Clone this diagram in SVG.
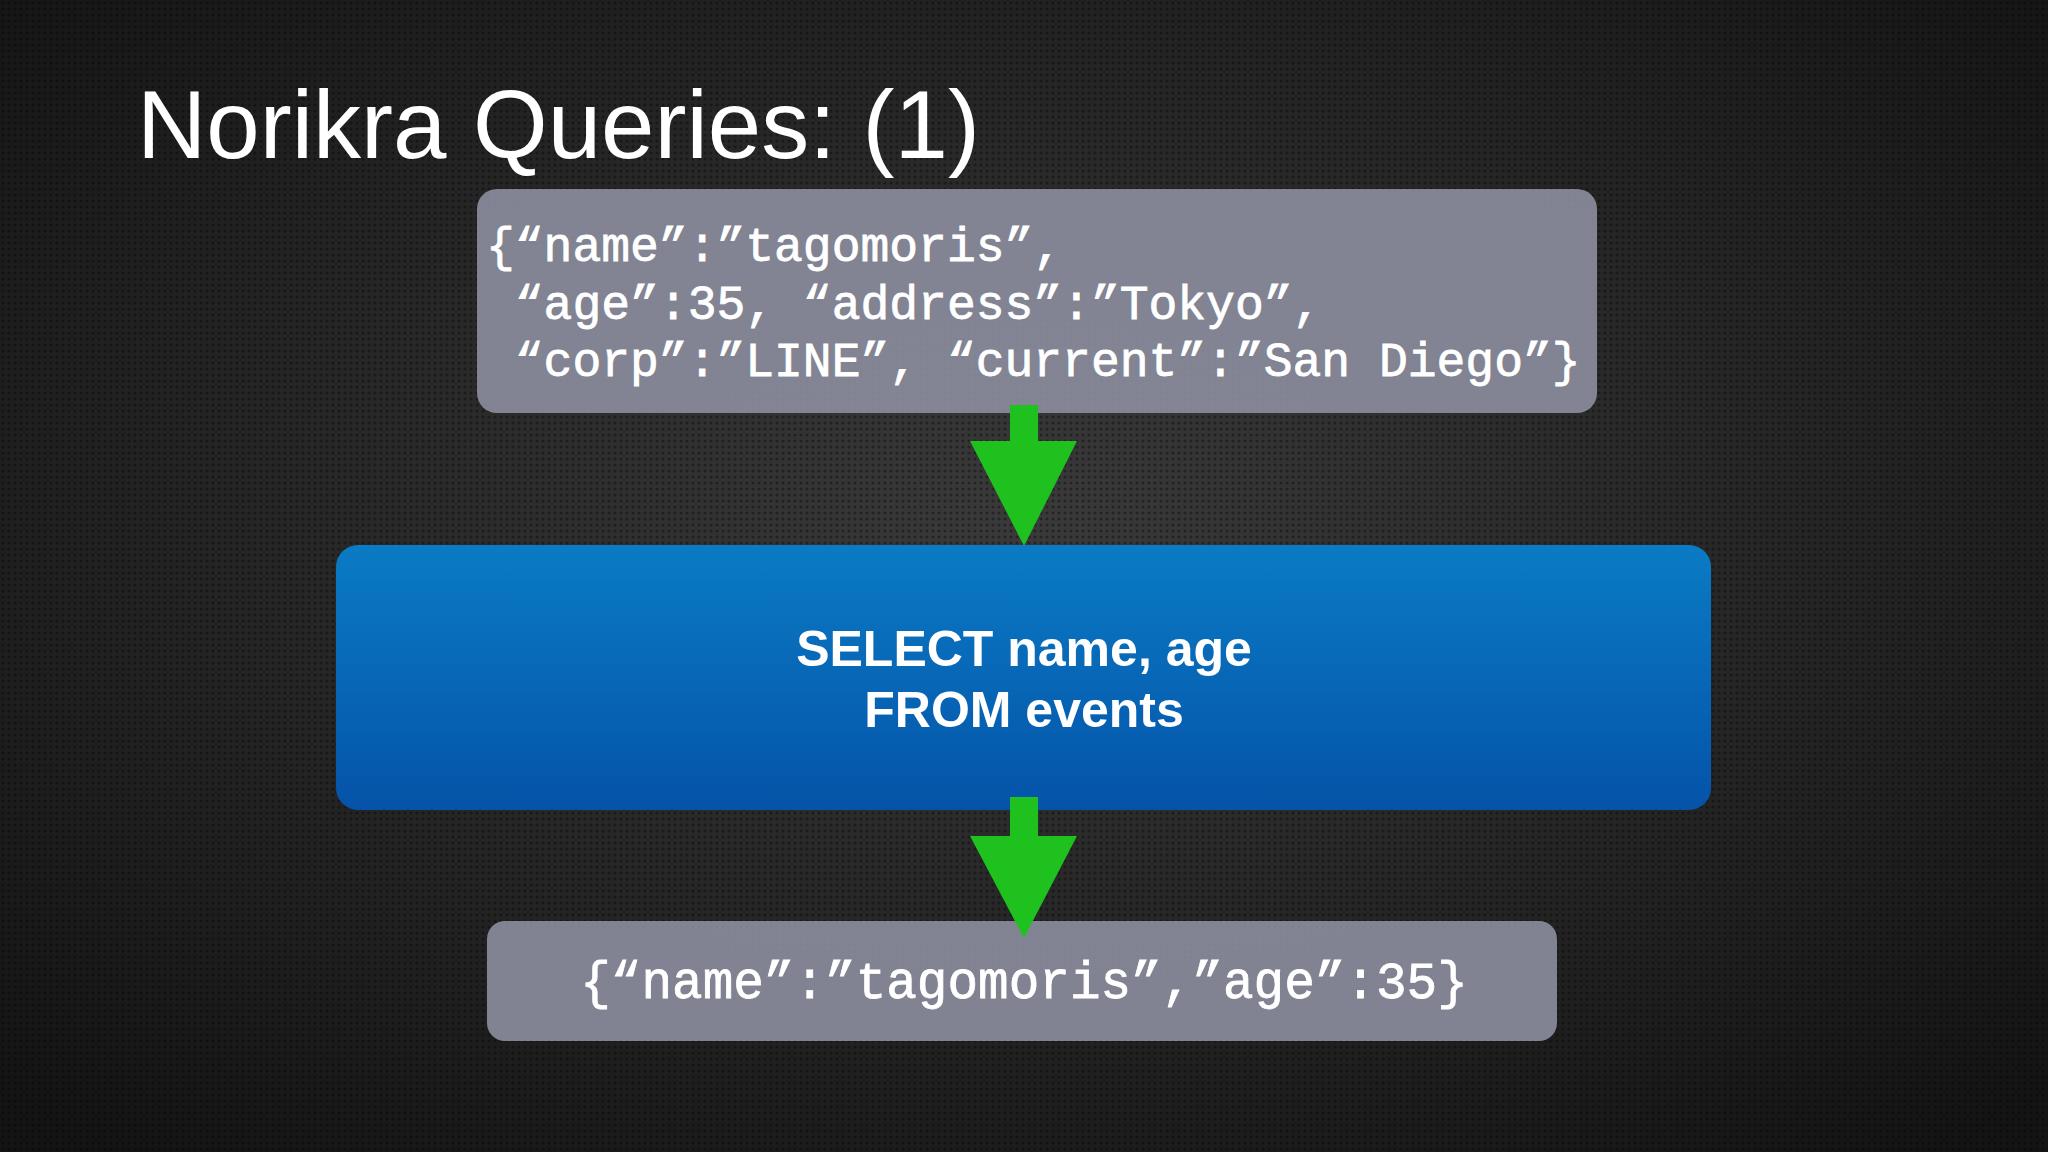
<svg xmlns="http://www.w3.org/2000/svg" width="2048" height="1152" viewBox="0 0 2048 1152">
<defs>
<radialGradient id="bg" cx="50%" cy="45%" r="70%">
<stop offset="0" stop-color="#3a3a3a"/><stop offset="1" stop-color="#141414"/>
</radialGradient>
<pattern id="dots" width="6" height="6" patternUnits="userSpaceOnUse">
<circle cx="3" cy="3" r="1.6" fill="#000" fill-opacity="0.35"/>
</pattern>
<linearGradient id="blue" x1="0" y1="0" x2="0" y2="1">
<stop offset="0" stop-color="#0a7bc4"/><stop offset="1" stop-color="#0553a8"/>
</linearGradient>
<style>
.gray{fill:#8a8c9c;fill-opacity:0.92}
.mono{font-family:"Liberation Mono",monospace;font-size:48px;fill:#fff;stroke:#fff;stroke-width:0.8}
.sql{font-family:"Liberation Sans",Arial,sans-serif;font-weight:bold;font-size:50px;fill:#fff;text-anchor:middle}
.arrow{fill:#1fc11f}
</style>
</defs>
<rect width="2048" height="1152" fill="url(#bg)"/>
<rect width="2048" height="1152" fill="url(#dots)"/>
<text x="137" y="158" font-family="Helvetica, 'Liberation Sans', Arial, sans-serif" font-size="96" fill="#fff">Norikra Queries: (1)</text>
<g id="input">
<rect class="gray" x="477" y="189" width="1120" height="224" rx="20"/>
<text class="mono" x="486" y="261" xml:space="preserve">{“name”:”tagomoris”,</text>
<text class="mono" x="486" y="319" xml:space="preserve"> “age”:35, “address”:”Tokyo”,</text>
<text class="mono" x="486" y="376" xml:space="preserve"> “corp”:”LINE”, “current”:”San Diego”}</text>
</g>
<g id="query">
<rect fill="url(#blue)" x="336" y="545" width="1375" height="265" rx="22"/>
<text class="sql" x="1024" y="666">SELECT name, age</text>
<text class="sql" x="1024" y="727">FROM events</text>
</g>
<g id="output">
<rect class="gray" x="487" y="921" width="1070" height="120" rx="18"/>
<text class="mono" x="1024" y="998" text-anchor="middle" style="font-size:51px">{“name”:”tagomoris”,”age”:35}</text>
</g>
<g id="connectors">
<path class="arrow" d="M1010 405H1038V441H1077L1024 546L970 441H1010Z"/>
<path class="arrow" d="M1010 797H1038V836H1077L1024 938L970 836H1010Z"/>
</g>
</svg>
